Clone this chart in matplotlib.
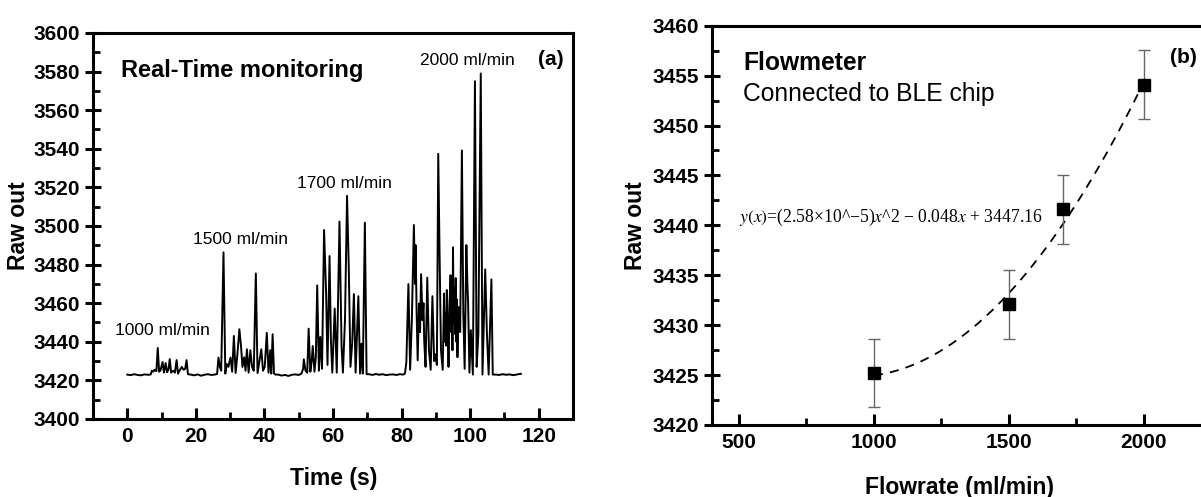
import numpy as np
import matplotlib
matplotlib.use("Agg")
import matplotlib.pyplot as plt
from matplotlib.ticker import MultipleLocator

plt.rcParams["font.family"] = ["Liberation Sans", "DejaVu Sans"]
plt.rcParams["mathtext.fontset"] = "stix"

# ---- panel (a): real-time raw output ----
time_s = [
    0, 1, 2, 3, 4, 5, 6, 6.8,
    7.2, 7.6, 8.0, 8.5, 8.9, 9.3, 9.7, 10.3, 10.7, 11.2, 11.6, 12.0, 12.4, 12.8,
    13.4, 13.9, 14.4, 14.8, 15.4, 15.9, 16.4, 16.9, 17.3, 17.7,
    18.5, 19.5, 20.5, 21.5, 22.5, 23.5, 24.5, 25.5, 26.2,
    26.6, 27.0, 27.4, 28.07, 28.6, 29.0, 29.5, 30.1, 30.6, 31.1, 31.6, 32.1, 32.7,
    33.2, 33.6, 34.1, 34.5, 34.9, 35.4, 35.9, 36.4, 36.9, 37.5, 38.0, 38.5, 39.1,
    39.6, 40.1, 40.7, 41.2, 41.7, 42.0, 42.4, 42.8, 43.3,
    44, 45, 46, 47, 48, 49, 50, 50.8,
    51.3, 51.5, 52.0, 52.5, 52.9, 53.4, 53.8, 54.1, 54.6, 55.0, 55.4, 55.9, 56.3,
    56.8, 57.4, 58.0, 58.4, 59.0, 59.4, 59.8, 60.5, 61.1, 61.9, 62.5, 62.9, 63.5,
    64.1, 64.6, 65.1, 65.6, 66.1, 66.6, 67.4, 67.9, 68.3, 68.7, 69.3, 69.8,
    70.5, 71.5, 72.5, 73.5, 74.5, 75.5, 76.5, 77.5, 78.5, 79.5, 80.5,
    81.0, 81.4, 82.0, 82.5, 83.0, 83.6, 83.9, 84.1, 84.4, 84.7, 85.1, 85.4, 85.7,
    86.1, 86.4, 86.6, 87.0, 87.5, 88.0, 88.5, 89.0, 89.5, 89.9, 90.3, 90.7, 91.1,
    91.5, 92.0, 92.4, 92.6, 92.8, 93.0, 93.2, 93.5, 93.7, 94.0, 94.3, 94.5, 94.7,
    94.85, 95.0, 95.2, 95.4, 95.6, 95.8, 96.0, 96.1, 96.3, 96.6, 96.8, 97.1, 97.6,
    98.0, 98.4, 98.9, 99.2, 99.4, 99.8, 100.2, 100.8, 101.4, 101.9, 102.4, 103.1,
    103.6, 104.4, 104.9, 105.4, 106.2, 106.6,
    107.5, 108.5, 109.5, 110.5, 111.5, 112.5, 113.5, 114.8,
]
raw_out = [
    3423.0, 3422.7, 3423.2, 3422.8, 3422.6, 3423.1, 3422.9, 3423.0,
    3425.0, 3424.5, 3425.5, 3424.8, 3436.8, 3424.5, 3425.2, 3429.5, 3424.0, 3429.0, 3424.2, 3425.5, 3431.0, 3424.0,
    3425.0, 3424.0, 3430.5, 3423.5, 3425.5, 3427.0, 3425.5, 3426.0, 3430.5, 3423.2,
    3423.0, 3422.6, 3423.1, 3422.4, 3422.9, 3423.2, 3422.8, 3423.0, 3423.3,
    3431.8, 3427.0, 3425.0, 3486.3, 3423.5, 3428.5, 3427.0, 3431.8, 3424.5, 3443.0, 3423.8, 3433.0, 3446.5,
    3437.3, 3427.0, 3432.0, 3425.0, 3436.1, 3424.0, 3435.6, 3427.0, 3425.0, 3475.4, 3423.8, 3429.5, 3436.1,
    3425.0, 3427.0, 3444.6, 3424.0, 3435.6, 3423.5, 3443.9, 3423.5, 3423.0,
    3423.0, 3422.5, 3422.8, 3422.3, 3422.9, 3423.1, 3422.8, 3423.5,
    3426.0, 3430.9, 3425.0, 3424.0, 3446.8, 3424.5, 3430.0, 3437.8, 3424.5, 3432.0, 3469.2, 3425.0, 3442.5,
    3426.0, 3497.9, 3465.0, 3428.0, 3484.4, 3440.5, 3424.0, 3457.2, 3424.0, 3502.3, 3438.0, 3424.0, 3451.2,
    3515.6, 3478.9, 3427.0, 3439.0, 3464.7, 3424.0, 3463.6, 3423.5, 3439.0, 3423.5, 3501.7, 3423.2,
    3423.2, 3422.8, 3423.3, 3422.9, 3423.2, 3422.7, 3423.0, 3423.1, 3422.8, 3423.2, 3423.0,
    3423.5, 3429.5, 3469.9, 3425.5, 3451.2, 3500.5, 3470.0, 3490.1, 3455.0, 3430.4, 3459.8, 3445.0, 3475.0,
    3451.2, 3460.0, 3440.8, 3427.0, 3473.2, 3435.6, 3425.5, 3463.6, 3430.0, 3433.5, 3428.0, 3537.4, 3484.0,
    3435.6, 3425.5, 3465.0, 3440.0, 3455.0, 3438.0, 3466.8, 3445.0, 3427.0, 3460.0, 3474.5, 3445.0, 3466.0,
    3435.6, 3488.9, 3450.0, 3468.0, 3444.0, 3473.0, 3440.0, 3462.0, 3432.0, 3458.0, 3451.2, 3445.0, 3539.1,
    3456.0, 3426.0, 3490.1, 3470.0, 3461.0, 3424.0, 3446.0, 3423.0, 3575.0, 3427.0, 3444.0, 3579.0,
    3423.0, 3477.5, 3444.0, 3423.0, 3472.3, 3423.0,
    3423.0, 3422.8, 3423.2, 3422.9, 3423.1, 3422.7, 3423.0, 3423.4,
]
flow_labels = ["1000 ml/min", "1500 ml/min", "1700 ml/min", "2000 ml/min"]
flow_label_t = [10.4, 32.9, 63.2, 99.1]
flow_label_v = [3443.4, 3490.6, 3519.6, 3583.3]

# ---- panel (b): mean raw output vs flowrate ----
flowrate = [1000, 1500, 1700, 2000]
raw_mean = [3425.2, 3432.1, 3441.6, 3454.1]
raw_err = [3.4, 3.45, 3.45, 3.45]
fit_coeffs = [2.58e-5, -0.048, 3447.16]  # quadratic fit shown on the chart

fig = plt.figure(figsize=(12.01, 4.97), dpi=100)
ax1 = fig.add_axes([0.0774, 0.157, 0.3997, 0.7767])
ax2 = fig.add_axes([0.5928, 0.1449, 0.4271, 0.8034])


def style_axes(ax):
    for sp in ax.spines.values():
        sp.set_linewidth(2.2)
    ax.tick_params(axis="y", which="major", direction="inout", length=12, width=2.2,
                   labelsize=15, pad=3, right=False)
    ax.tick_params(axis="y", which="minor", direction="in", length=5, width=2.0, right=False)
    ax.tick_params(axis="x", which="major", direction="in", length=8, width=2.2,
                   labelsize=15, pad=6, top=False)
    ax.tick_params(axis="x", which="minor", direction="in", length=5, width=2.0, top=False)
    for lab in ax.get_xticklabels() + ax.get_yticklabels():
        lab.set_fontweight("bold")


# panel (a)
ax1.plot(time_s, raw_out, color="black", linewidth=1.4)
ax1.set_xlim(-10, 130)
ax1.set_ylim(3400, 3600)
ax1.xaxis.set_major_locator(MultipleLocator(20))
ax1.xaxis.set_minor_locator(MultipleLocator(10))
ax1.yaxis.set_major_locator(MultipleLocator(20))
ax1.yaxis.set_minor_locator(MultipleLocator(10))
ax1.set_xticks([0, 20, 40, 60, 80, 100, 120])
style_axes(ax1)
ax1.set_xlabel("Time (s)", fontsize=16.5, fontweight="bold")
ax1.set_ylabel("Raw out", fontsize=16.5, fontweight="bold")
ax1.xaxis.set_label_coords(0.501, -0.124)
ax1.yaxis.set_label_coords(-0.131, 0.5)
ax1.text(-1.7, 3577.4, "Real-Time monitoring", fontsize=17, fontweight="bold")
for lab, tx, vy in zip(flow_labels, flow_label_t, flow_label_v):
    ax1.text(tx, vy, lab, fontsize=12.5, ha="center")
ax1.text(123.4, 3583.6, "(a)", fontsize=15, fontweight="bold", ha="center")

# panel (b)
xs = np.linspace(flowrate[0], flowrate[-1], 200)
ax2.plot(xs, np.polyval(fit_coeffs, xs), color="black", linewidth=1.3,
         linestyle=(0, (5, 4)))
ax2.errorbar(flowrate, raw_mean, yerr=raw_err, fmt="none", ecolor="#666666",
             elinewidth=1.0, capsize=4, capthick=1.0)
ax2.plot(flowrate, raw_mean, "s", color="black", markersize=8)
ax2.set_xlim(400, 2300)
ax2.set_ylim(3420, 3460)
ax2.xaxis.set_major_locator(MultipleLocator(500))
ax2.xaxis.set_minor_locator(MultipleLocator(250))
ax2.yaxis.set_major_locator(MultipleLocator(5))
ax2.yaxis.set_minor_locator(MultipleLocator(2.5))
style_axes(ax2)
ax2.set_xlabel("Flowrate (ml/min)", fontsize=16.5, fontweight="bold")
ax2.set_ylabel("Raw out", fontsize=16.5, fontweight="bold")
ax2.xaxis.set_label_coords(0.483, -0.128)
ax2.yaxis.set_label_coords(-0.127, 0.5)
ax2.text(515, 3455.6, "Flowmeter", fontsize=17.7, fontweight="bold")
ax2.text(515, 3452.5, "Connected to BLE chip", fontsize=17.7)
ax2.text(500, 3440.3, r"$y(x)$=(2.58×10^−5)$x$^2 − 0.048$x$ + 3447.16",
         fontsize=12.7, family=["Liberation Serif", "DejaVu Serif"])
# panel tag pulled in just enough to stay inside the figure
ax2.text(2098, 3456.3, "(b)", fontsize=15, fontweight="bold")

fig.savefig("out.png", dpi=100)
